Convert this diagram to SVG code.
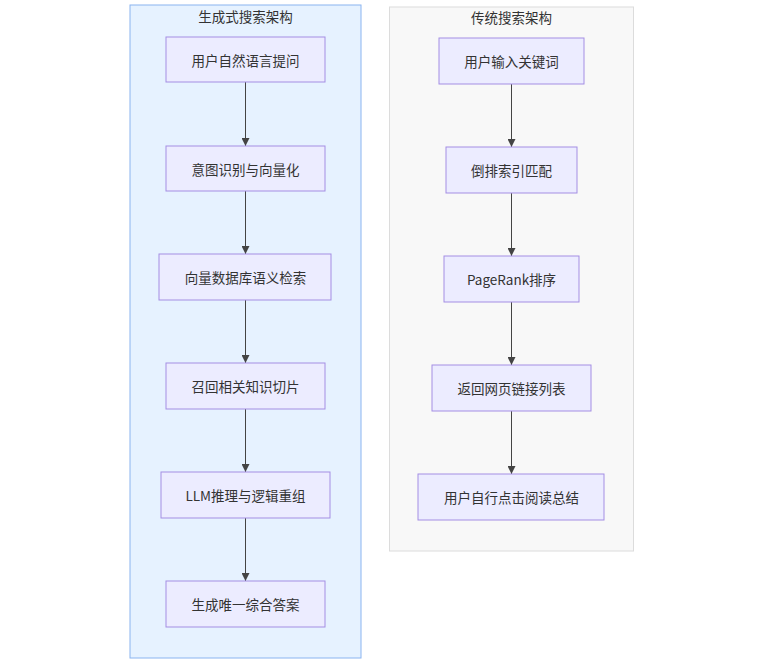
<svg xmlns="http://www.w3.org/2000/svg" width="760" height="663" viewBox="0 0 760 663">
<style>
.cl-gen{fill:#e6f2ff;stroke:#8ab4f0;stroke-width:1}
.cl-trad{fill:#f8f8f8;stroke:#dcdcdc;stroke-width:1}
.node rect{fill:#ececff;stroke:#a48ee3;stroke-width:1}
text{font-family:"Noto Sans CJK SC","Liberation Sans",sans-serif;font-size:13.5px;fill:#333;text-anchor:middle;dominant-baseline:central}
.edge{stroke:#444;stroke-width:1;fill:none;marker-end:url(#arr)}
</style>
<defs>
<marker id="arr" viewBox="0 0 10 10" refX="10" refY="5" markerWidth="8" markerHeight="8" markerUnits="userSpaceOnUse" orient="auto">
<path d="M0,0 L10,5 L0,10 z" fill="#444"/>
</marker>
</defs>
<g id="cluster-gen">
<rect class="cl-gen" x="130" y="5" width="231" height="653"/>
<text x="245.5" y="16">生成式搜索架构</text>
</g>
<g id="cluster-trad">
<rect class="cl-trad" x="389.5" y="7" width="244" height="544"/>
<text x="511.5" y="17">传统搜索架构</text>
</g>
<g id="edges">
<line class="edge" x1="245.5" y1="82" x2="245.5" y2="146"/>
<line class="edge" x1="245.5" y1="191" x2="245.5" y2="254"/>
<line class="edge" x1="245.5" y1="300" x2="245.5" y2="363"/>
<line class="edge" x1="245.5" y1="409" x2="245.5" y2="472"/>
<line class="edge" x1="245.5" y1="518" x2="245.5" y2="581"/>
<line class="edge" x1="511.5" y1="84" x2="511.5" y2="147"/>
<line class="edge" x1="511.5" y1="193" x2="511.5" y2="256"/>
<line class="edge" x1="511.5" y1="302" x2="511.5" y2="365"/>
<line class="edge" x1="511.5" y1="411" x2="511.5" y2="474"/>
</g>
<g id="g1" class="node"><rect x="166" y="37" width="159" height="45"/><text x="245.5" y="59.5">用户自然语言提问</text></g>
<g id="g2" class="node"><rect x="166" y="146" width="159" height="45"/><text x="245.5" y="168.5">意图识别与向量化</text></g>
<g id="g3" class="node"><rect x="159" y="254" width="172" height="46"/><text x="245.5" y="277">向量数据库语义检索</text></g>
<g id="g4" class="node"><rect x="166" y="363" width="159" height="46"/><text x="245.5" y="386">召回相关知识切片</text></g>
<g id="g5" class="node"><rect x="161" y="472" width="169" height="46"/><text x="245.5" y="495">LLM推理与逻辑重组</text></g>
<g id="g6" class="node"><rect x="166" y="581" width="159" height="46"/><text x="245.5" y="604">生成唯一综合答案</text></g>
<g id="t1" class="node"><rect x="439" y="38" width="145" height="46"/><text x="511.5" y="61">用户输入关键词</text></g>
<g id="t2" class="node"><rect x="446" y="147" width="131" height="46"/><text x="511.5" y="170">倒排索引匹配</text></g>
<g id="t3" class="node"><rect x="444" y="256" width="135" height="46"/><text x="511.5" y="279">PageRank排序</text></g>
<g id="t4" class="node"><rect x="432" y="365" width="159" height="46"/><text x="511.5" y="388">返回网页链接列表</text></g>
<g id="t5" class="node"><rect x="418" y="474" width="186" height="46"/><text x="511.5" y="497">用户自行点击阅读总结</text></g>
</svg>
